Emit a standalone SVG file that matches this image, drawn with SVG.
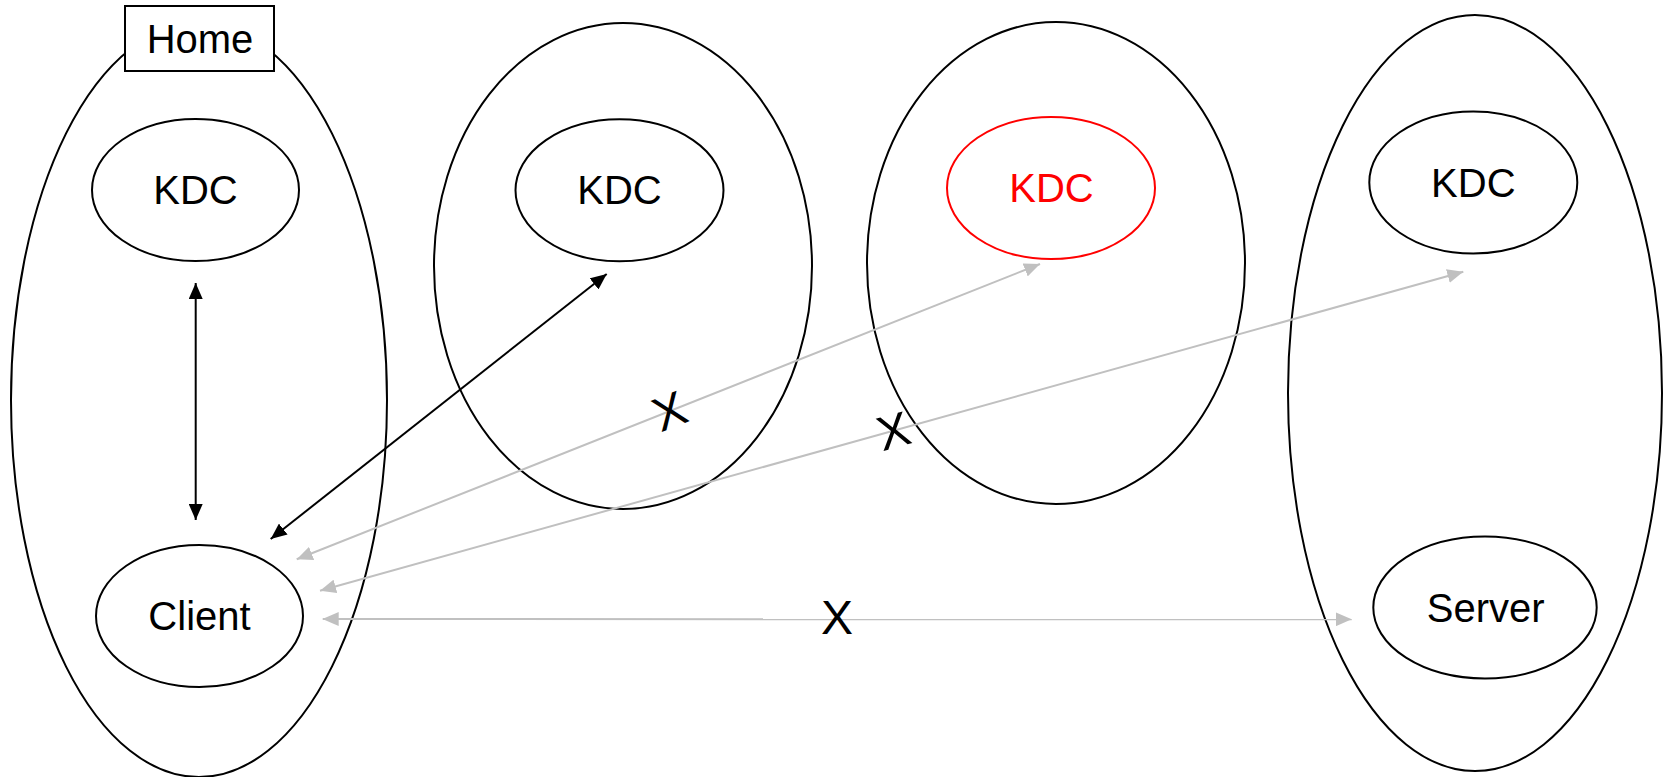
<svg xmlns="http://www.w3.org/2000/svg" width="1672" height="777" viewBox="0 0 1672 777">
  <style>
    .realm { fill: none; stroke: #000; stroke-width: 2; }
    .node { fill: #fff; stroke: #000; stroke-width: 2; }
    .node.down { stroke: #ff0000; }
    .label { font-family: "Liberation Sans", Arial, sans-serif; font-size: 40px; fill: #000; text-anchor: middle; }
    .label.down { fill: #ff0000; }
    .ok { stroke: #000; stroke-width: 2; fill: none; }
    .blocked { stroke: #c0c0c0; stroke-width: 2; fill: none; }
    .cross { font-family: "Liberation Sans", Arial, sans-serif; font-size: 48px; fill: #000; text-anchor: middle; }
  </style>
  <defs>
    <marker id="headBlack" markerUnits="userSpaceOnUse" markerWidth="16" markerHeight="14" refX="16" refY="7" orient="auto-start-reverse" viewBox="0 0 16 14">
      <path d="M0,0 L16,7 L0,14 z" fill="#000"/>
    </marker>
    <marker id="headGray" markerUnits="userSpaceOnUse" markerWidth="16" markerHeight="14" refX="16" refY="7" orient="auto-start-reverse" viewBox="0 0 16 14">
      <path d="M0,0 L16,7 L0,14 z" fill="#c0c0c0"/>
    </marker>
  </defs>
  <rect width="1672" height="777" fill="#fff"/>

  <!-- realms -->
  <g id="realm-home">
    <ellipse class="realm" cx="199" cy="400" rx="188" ry="377"/>
  </g>
  <g id="realm-2">
    <ellipse class="realm" cx="623" cy="266" rx="189" ry="243"/>
  </g>
  <g id="realm-3">
    <ellipse class="realm" cx="1056" cy="263" rx="189" ry="241"/>
  </g>
  <g id="realm-4">
    <ellipse class="realm" cx="1475" cy="393" rx="187" ry="378"/>
  </g>

  <!-- connectors -->
  <g id="connectors">
    <line class="ok" x1="195.7" y1="283" x2="195.7" y2="520" marker-start="url(#headBlack)" marker-end="url(#headBlack)"/>
    <line class="ok" x1="270.7" y1="539" x2="606.7" y2="274" marker-start="url(#headBlack)" marker-end="url(#headBlack)"/>
    <line class="blocked" x1="296.7" y1="559.3" x2="1040" y2="264" marker-start="url(#headGray)" marker-end="url(#headGray)"/>
    <line class="blocked" x1="320" y1="590.7" x2="1463.3" y2="271.7" marker-start="url(#headGray)" marker-end="url(#headGray)"/>
    <line class="blocked" x1="322.7" y1="619" x2="1351.7" y2="619.3" marker-start="url(#headGray)" marker-end="url(#headGray)"/>
  </g>

  <!-- failure marks on the blocked paths -->
  <g id="cross-marks">
    <text class="cross" transform="translate(669.3 410.7) rotate(-21.6)" y="17">X</text>
    <text class="cross" transform="translate(893.3 430.7) rotate(-15.5)" y="17">X</text>
    <text class="cross" x="837" y="634.3">X</text>
  </g>

  <!-- nodes -->
  <g id="home-tag">
    <rect class="node" x="125" y="6" width="149" height="65"/>
    <text class="label" x="200" y="53.3">Home</text>
  </g>
  <g id="kdc-home">
    <ellipse class="node" cx="195.5" cy="190" rx="103.5" ry="71"/>
    <text class="label" x="195.5" y="204">KDC</text>
  </g>
  <g id="client">
    <ellipse class="node" cx="199.5" cy="616" rx="103.5" ry="71"/>
    <text class="label" x="199.5" y="630">Client</text>
  </g>
  <g id="kdc-2">
    <ellipse class="node" cx="619.5" cy="190.3" rx="104" ry="71"/>
    <text class="label" x="619.5" y="204">KDC</text>
  </g>
  <g id="kdc-3">
    <ellipse class="node down" cx="1051" cy="188" rx="104" ry="71"/>
    <text class="label down" x="1051.5" y="201.7">KDC</text>
  </g>
  <g id="kdc-4">
    <ellipse class="node" cx="1473.3" cy="182.5" rx="104" ry="71"/>
    <text class="label" x="1473.3" y="196.7">KDC</text>
  </g>
  <g id="server">
    <ellipse class="node" cx="1485" cy="607.5" rx="111.7" ry="71"/>
    <text class="label" x="1485.7" y="621.7">Server</text>
  </g>
</svg>
